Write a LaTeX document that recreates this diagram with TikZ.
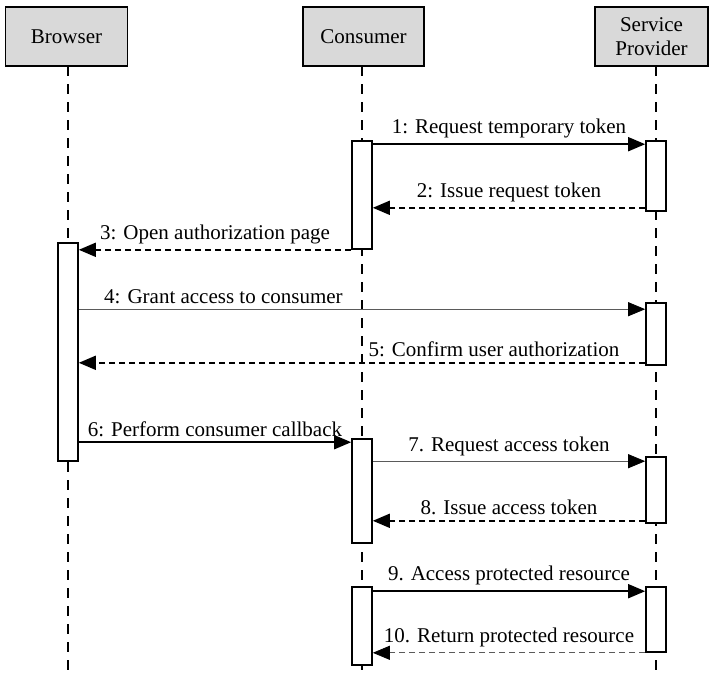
\documentclass[tikz,border=0pt]{standalone}
\usepackage{fontspec}
\setmainfont{Liberation Serif}
\usetikzlibrary{arrows.meta}
\definecolor{headgray}{RGB}{217,217,217}
\definecolor{softgray}{RGB}{90,90,90}

\begin{document}
\begin{tikzpicture}[x=0.5pt, y=-0.5pt, font=\fontsize{10.5}{12}\selectfont,
    actor/.style={rectangle, draw, thick, fill=headgray, minimum height=29.5pt, align=center, inner sep=1pt},
    life/.style={thick, dash pattern=on 5pt off 4pt},
    bar/.style={rectangle, draw, thick, fill=white, minimum width=10pt, inner sep=0pt},
    call/.style={-{Triangle[length=8.5pt,width=7pt,color=black]}, thick},
    reply/.style={-{Triangle[length=8.5pt,width=7pt,color=black]}, thick, dash pattern=on 3pt off 2pt},
    faint/.style={thin, draw=softgray},
    lbl/.style={above, inner sep=2.5pt, text=black}]
    \useasboundingbox (0,0) rectangle (709,675);

    % participants
    \node[actor, minimum width=61pt] (browser) at (66.5,36.5) {Browser};
    \node[actor, minimum width=60.5pt] (consumer) at (363.5,36.5) {Consumer};
    \node[actor, minimum width=56.5pt] (provider) at (651.5,36.5) {Service\\Provider};

    \coordinate (bTop) at (68,66);  \coordinate (bEnd) at (68,675);
    \coordinate (cTop) at (362,66); \coordinate (cEnd) at (362,675);
    \coordinate (sTop) at (656,66); \coordinate (sEnd) at (656,675);
    \draw[life] (bTop) -- (bEnd);
    \draw[life] (cTop) -- (cEnd);
    \draw[life] (sTop) -- (sEnd);

    % activation bars
    \node[bar, minimum height=54pt] (c1) at (362,195) {};
    \node[bar, minimum height=35pt] (s1) at (656,176) {};
    \node[bar, minimum height=109pt] (b1) at (68,352) {};
    \node[bar, minimum height=31pt] (s2) at (656,334) {};
    \node[bar, minimum height=52pt] (c2) at (362,491) {};
    \node[bar, minimum height=33pt] (s3) at (656,490) {};
    \node[bar, minimum height=39pt] (c3) at (362,626) {};
    \node[bar, minimum height=32.5pt] (s4) at (656,619.5) {};

    % messages
    \draw[call] ([yshift=-2pt]c1.north east) -- ([yshift=-2pt]s1.north west)
        node[lbl, midway] {1: Request temporary token};
    \draw[reply] ([yshift=2pt]s1.south west) -- ([yshift=2pt]s1.south west -| c1.east)
        node[lbl, midway] {2: Issue request token};
    \draw[reply] (c1.south west) -- (c1.south west -| b1.east)
        node[lbl, midway] {3: Open authorization page};
    \draw[call, faint] ([yshift=-3.5pt]s2.north west -| b1.east) -- ([yshift=-3.5pt]s2.north west)
        node[lbl, pos=0, anchor=south west, xshift=10pt] {4: Grant access to consumer};
    \draw[reply] ([yshift=1.5pt]s2.south west) -- ([yshift=1.5pt]s2.south west -| b1.east)
        node[lbl, pos=0, anchor=south east, xshift=-10pt] {5: Confirm user authorization};
    \draw[call] ([yshift=-2pt]c2.north west -| b1.east) -- ([yshift=-2pt]c2.north west)
        node[lbl, midway] {6: Perform consumer callback};
    \draw[call, faint] ([yshift=-2.5pt]s3.north west -| c2.east) -- ([yshift=-2.5pt]s3.north west)
        node[lbl, midway] {7. Request access token};
    \draw[reply] ([yshift=1.5pt]s3.south west) -- ([yshift=1.5pt]s3.south west -| c2.east)
        node[lbl, midway] {8. Issue access token};
    \draw[call] ([yshift=-2.5pt]c3.north east) -- ([yshift=-2.5pt]s4.north west)
        node[lbl, midway] {9. Access protected resource};
    \draw[reply, faint] (s4.south west) -- (s4.south west -| c3.east)
        node[lbl, midway] {10. Return protected resource};
\end{tikzpicture}
\end{document}
